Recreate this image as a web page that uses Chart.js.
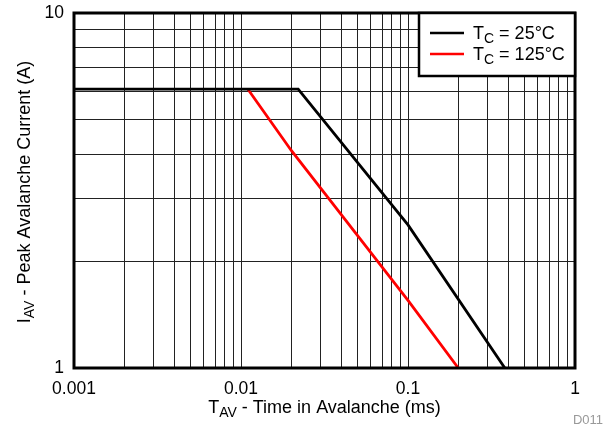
<!DOCTYPE html>
<html>
<head>
<meta charset="utf-8">
<script src="https://cdn.jsdelivr.net/npm/chart.js@4/dist/chart.umd.min.js"></script>
<style>
html,body{margin:0;padding:0;background:#fff;}
#wrap{width:612px;height:428px;position:relative;}
</style>
</head>
<body>
<div id="wrap"><canvas id="c" width="612" height="428"></canvas></div>
<script>
// Data
const tc25Time = [0.001, 0.022, 0.1, 0.38];
const tc25Current = [6.1, 6.1, 2.53, 1.0];
const tc125Time = [0.011, 0.02, 0.1, 0.2];
const tc125Current = [6.1, 4.1, 1.55, 1.0];
const xTickLabels = [0.001, 0.01, 0.1, 1];
const yTickLabels = [1, 10];
const minorSteps = [1, 2, 3, 4, 5, 6, 7, 8, 9];
const seriesNames = [["T", "C", " = 25°C"], ["T", "C", " = 125°C"]];
const seriesColors = ["#000000", "#ff0000"];

const FONT = "Liberation Sans, Arial, sans-serif";

function toPts(xs, ys) { return xs.map((x, i) => ({x: x, y: ys[i]})); }

function logTicks(decades) {
  const out = [];
  for (let i = 0; i < decades.length - 1; i++) {
    minorSteps.forEach(m => out.push({value: +(decades[i] * m).toPrecision(6)}));
  }
  out.push({value: decades[decades.length - 1]});
  return out;
}

function richText(ctx, segs, x, y, size, align) {
  const subSize = Math.round(size * 0.78);
  ctx.font = size + "px " + FONT;
  const w0 = ctx.measureText(segs[0]).width;
  const w2 = ctx.measureText(segs[2]).width;
  ctx.font = subSize + "px " + FONT;
  const w1 = ctx.measureText(segs[1]).width;
  const total = w0 + w1 + w2;
  let sx = align === "center" ? x - total / 2 : x;
  ctx.textBaseline = "alphabetic";
  ctx.textAlign = "left";
  ctx.font = size + "px " + FONT;
  ctx.fillText(segs[0], sx, y);
  ctx.font = subSize + "px " + FONT;
  ctx.fillText(segs[1], sx + w0, y + size * 0.22);
  ctx.font = size + "px " + FONT;
  ctx.fillText(segs[2], sx + w0 + w1, y);
}

const decor = {
  id: "decor",
  afterDraw(chart) {
    const ctx = chart.ctx;
    const a = chart.chartArea;
    ctx.save();
    ctx.strokeStyle = "#000";
    ctx.lineWidth = 3;
    ctx.strokeRect(a.left, a.top, a.right - a.left, a.bottom - a.top);
    // legend box
    const lx = 419, ly = a.top, lw = a.right - 419, lh = 63;
    ctx.fillStyle = "#fff";
    ctx.fillRect(lx, ly, lw, lh);
    ctx.lineWidth = 2.5;
    ctx.strokeRect(lx, ly, lw, lh);
    const rows = [a.top + 20, a.top + 41];
    seriesNames.forEach((n, i) => {
      ctx.strokeStyle = seriesColors[i];
      ctx.lineWidth = 2.5;
      ctx.beginPath();
      ctx.moveTo(430, rows[i]);
      ctx.lineTo(464, rows[i]);
      ctx.stroke();
      ctx.fillStyle = "#000";
      richText(ctx, n, 473, rows[i] + 6, 18, "left");
    });
    // axis titles
    ctx.fillStyle = "#000";
    richText(ctx, ["T", "AV", " - Time in Avalanche (ms)"], (a.left + a.right) / 2, 413, 18, "center");
    ctx.save();
    ctx.translate(30, 192);
    ctx.rotate(-Math.PI / 2);
    richText(ctx, ["I", "AV", " - Peak Avalanche Current (A)"], 0, 0, 18, "center");
    ctx.restore();
    ctx.fillStyle = "#999";
    ctx.font = "13px " + FONT;
    ctx.textAlign = "right";
    ctx.textBaseline = "alphabetic";
    ctx.fillText("D011", 603, 424);
    ctx.restore();
  }
};

function labelFor(list, v) {
  const d = list.find(t => Math.abs(v - t) / t < 1e-6);
  return d !== undefined ? String(d) : "";
}

new Chart(document.getElementById("c"), {
  type: "line",
  data: {
    datasets: [
      {data: toPts(tc25Time, tc25Current), borderColor: seriesColors[0], borderWidth: 2.8, pointRadius: 0, tension: 0},
      {data: toPts(tc125Time, tc125Current), borderColor: seriesColors[1], borderWidth: 2.8, pointRadius: 0, tension: 0}
    ]
  },
  options: {
    responsive: false,
    animation: false,
    devicePixelRatio: 1,
    layout: {padding: {left: 0, top: 13, right: 37, bottom: 0}},
    plugins: {legend: {display: false}, tooltip: {enabled: false}},
    scales: {
      x: {
        type: "logarithmic",
        min: 0.001, max: 1,
        afterBuildTicks(s) { s.ticks = logTicks(xTickLabels); },
        afterFit(s) { s.height = 60; s.paddingLeft = 0; s.paddingRight = 0; },
        border: {display: false},
        grid: {color: "#222", lineWidth: 1, drawTicks: false},
        ticks: {
          autoSkip: false, maxRotation: 0, padding: 11, color: "#000",
          font: {family: FONT, size: 17.5},
          callback(v) { return labelFor(xTickLabels, v); }
        }
      },
      y: {
        type: "logarithmic",
        min: 1, max: 10,
        afterBuildTicks(s) { s.ticks = logTicks(yTickLabels); },
        afterFit(s) { s.width = 74; s.paddingTop = 0; s.paddingBottom = 0; },
        border: {display: false},
        grid: {color: "#222", lineWidth: 1, drawTicks: false},
        ticks: {
          autoSkip: false, padding: 10, color: "#000",
          font: {family: FONT, size: 17.5},
          callback(v) { return labelFor(yTickLabels, v); }
        }
      }
    }
  },
  plugins: [decor]
});
</script>
</body>
</html>
